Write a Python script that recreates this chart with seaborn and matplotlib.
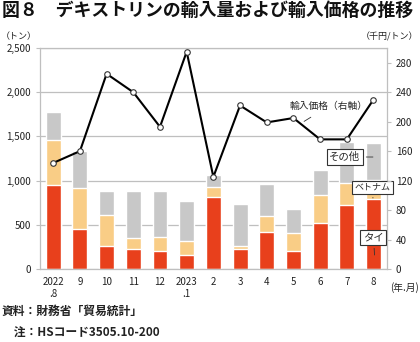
import matplotlib
matplotlib.use("Agg")
import matplotlib.pyplot as plt
import seaborn as sns
import numpy as np
import pandas as pd

months = ["2022.8", "2022.9", "2022.10", "2022.11", "2022.12", "2023.1", "2023.2",
          "2023.3", "2023.4", "2023.5", "2023.6", "2023.7", "2023.8"]
tick_labels = ["2022\n.8", "9", "10", "11", "12", "2023\n.1", "2", "3", "4", "5", "6", "7", "8"]
thai = [946, 456, 260, 226, 200, 158, 811, 226, 415, 207, 520, 720, 792]
vietnam = [517, 456, 347, 125, 158, 162, 117, 34, 185, 200, 321, 253, 219]
other = [309, 427, 272, 528, 521, 445, 139, 479, 365, 272, 283, 464, 414]
price = [144, 160, 265, 240, 193, 295, 125, 222, 199, 205, 176, 176, 230]

sns.set_style("white")
plt.rcParams["font.family"] = ["Noto Sans CJK JP", "DejaVu Sans"]

df = pd.DataFrame({"month": months, "thai": thai, "vietnam": vietnam,
                   "other": other, "price": price})
df["tv"] = df["thai"] + df["vietnam"]
df["total"] = df["tv"] + df["other"]
df["pos"] = np.arange(len(df))

C_THAI = "#E8401C"
C_VIET = "#F9CD86"
C_OTHER = "#C8C8C8"
GRID = "#BFBFBF"

fig = plt.figure(figsize=(4.2, 3.42), dpi=100)
ax = fig.add_axes([0.095, 0.2135, 0.826, 0.646])

bw = 0.56
sns.barplot(data=df, x="month", y="total", color=C_OTHER, saturation=1, width=bw, ax=ax, zorder=2)
sns.barplot(data=df, x="month", y="tv", color=C_VIET, saturation=1, width=bw, ax=ax, zorder=2)
sns.barplot(data=df, x="month", y="thai", color=C_THAI, saturation=1, width=bw, ax=ax, zorder=2)

ax.set_xlim(-0.5, len(df) - 0.5)
ax.set_ylim(0, 2500)
ax.set_yticks([0, 500, 1000, 1500, 2000, 2500])
ax.set_yticklabels(["0", "500", "1,000", "1,500", "2,000", "2,500"])
ax.yaxis.grid(True, color=GRID, lw=0.9)
ax.set_axisbelow(True)
ax.set_xlabel("")
ax.set_ylabel("")
ax.set_xticks(df["pos"])
ax.set_xticklabels(tick_labels)
ax.set_xticks(np.arange(-0.5, len(df), 1.0), minor=True)
ax.tick_params(axis="x", which="major", length=0, labelsize=7, pad=6, colors="#222222")
ax.tick_params(axis="x", which="minor", length=3, color=GRID, width=0.8)
ax.tick_params(axis="y", length=3, color=GRID, width=0.8, labelsize=7, colors="#222222")
for s in ax.spines.values():
    s.set_color(GRID)
    s.set_linewidth(0.9)
    s.set_visible(True)

ax2 = ax.twinx()
sns.lineplot(data=df, x="pos", y="price", ax=ax2, color="black", lw=1.5,
             marker="o", markersize=4, markerfacecolor="white",
             markeredgecolor="#333333", markeredgewidth=0.8)
ax2.set_ylim(0, 300)
ax2.set_yticks(np.arange(0, 281, 40))
ax2.set_ylabel("")
ax2.set_xlabel("")
ax2.tick_params(axis="y", length=3, color=GRID, width=0.8, labelsize=7, colors="#222222")
for s in ax2.spines.values():
    s.set_visible(False)
ax.set_xlim(-0.5, len(df) - 0.5)

box = dict(boxstyle="square,pad=0.25", fc="white", ec="#333333", lw=0.8)
ax.annotate("輸入価格（右軸）", xy=(9.4, 1670), xytext=(10.33, 1844), fontsize=7,
            ha="center", va="center", arrowprops=dict(arrowstyle="-", lw=0.6, color="#333333",
                                                        shrinkA=4, shrinkB=0), zorder=5)
ax.annotate("その他", xy=(11.98, 1267), xytext=(10.93, 1267), fontsize=7.5,
            ha="center", va="center", bbox=box,
            arrowprops=dict(arrowstyle="-", lw=0.6, color="#333333", shrinkB=0), zorder=5)
ax.annotate("ベトナム", xy=(11.98, 803), xytext=(11.96, 922), fontsize=6.5,
            ha="center", va="center", bbox=box,
            arrowprops=dict(arrowstyle="-", lw=0.6, color="#333333", shrinkB=0), zorder=5)
ax.annotate("タイ", xy=(12.04, 158), xytext=(12.0, 356), fontsize=7.5,
            ha="center", va="center", bbox=box,
            arrowprops=dict(arrowstyle="-", lw=0.6, color="#333333", shrinkB=0), zorder=5)

fig.text(0.004, 0.995, "図８　デキストリンの輸入量および輸入価格の推移", fontsize=12.9,
         fontweight="bold", ha="left", va="top", color="#111111")
fig.text(0.045, 0.893, "（トン）", fontsize=6.5, ha="center", va="center", color="#222222")
fig.text(0.997, 0.893, "（千円/トン）", fontsize=6.5, ha="right", va="center", color="#222222")
fig.text(0.997, 0.158, "(年.月)", fontsize=7, ha="right", va="center", color="#222222")
fig.text(0.004, 0.088, "資料：財務省「貿易統計」", fontsize=8.5, fontweight="bold",
         ha="left", va="center", color="#222222")
fig.text(0.004, 0.027, "　注：HSコード3505.10-200", fontsize=8.5, fontweight="bold",
         ha="left", va="center", color="#222222")

fig.savefig("out.png", dpi=100)
